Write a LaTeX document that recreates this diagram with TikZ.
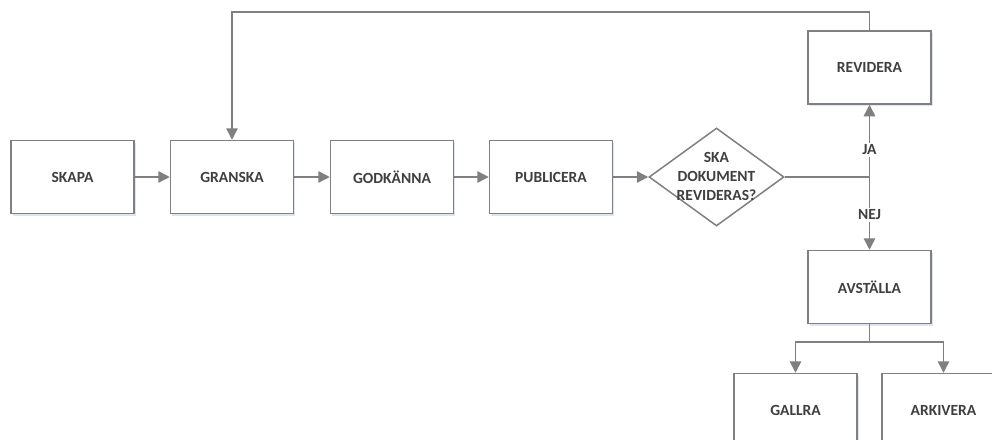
\documentclass[tikz,border=0pt]{standalone}
\usepackage{fontspec}
\setmainfont{Carlito}[BoldFont={Carlito Bold}]
\usetikzlibrary{shapes.geometric,arrows.meta,shadows}
\definecolor{linegray}{HTML}{808080}
\definecolor{textgray}{HTML}{3F3F3F}
\definecolor{shadowblue}{HTML}{DCE6F2}
\tikzset{
  box/.style={draw=linegray, line width=1.5pt, fill=white, minimum width=123pt, minimum height=73pt,
    inner sep=0pt, font=\bfseries\fontsize{15.5}{19}\selectfont, text=textgray,
    drop shadow={shadow xshift=1.5pt, shadow yshift=-2pt, fill=shadowblue, opacity=1}},
  conn/.style={draw=linegray, line width=1.5pt},
  arr/.style={conn, -{Triangle[length=11.5pt,width=11.5pt]}},
  lbl/.style={fill=white, inner sep=2pt, font=\bfseries\fontsize{15.5}{19}\selectfont, text=textgray},
}
\begin{document}
\begin{tikzpicture}[x=1pt,y=-1pt]
\useasboundingbox (0,0) rectangle (992,439);
\begin{scope}
\clip (0,0) rectangle (992,439);
\node[box] (skapa) at (72.5,177) {SKAPA};
\node[box] (granska) at (232,177) {GRANSKA};
\node[box] (godkanna) at (392,177) {GODKÄNNA};
\node[box] (publicera) at (551,177) {PUBLICERA};
\node[diamond, draw=linegray, line width=1.5pt, fill=white, inner sep=0pt,
  minimum width=135pt, minimum height=98pt, aspect=1.38] (beslut) at (716.5,177) {};
\node[align=center, font=\bfseries\fontsize{15.5}{19}\selectfont, text=textgray] (beslutText) at (716.5,176) {SKA\\DOKUMENT\\REVIDERAS?};
\node[box] (revidera) at (869.5,67.5) {REVIDERA};
\node[box] (avstalla) at (869.5,287) {AVSTÄLLA};
\node[box] (gallra) at (795.5,410) {GALLRA};
\node[box] (arkivera) at (943.5,410) {ARKIVERA};
\coordinate (junction) at (869.5,177);
\coordinate (topR) at (869.5,12);
\coordinate (topL) at (232,12);
\coordinate (split) at (869.5,342);
\coordinate (splitL) at (795.5,342);
\coordinate (splitR) at (943.5,342);

\draw[arr] (skapa) -- (granska);
\draw[arr] (granska) -- (godkanna);
\draw[arr] (godkanna) -- (publicera);
\draw[arr] (publicera) -- (beslut);
\draw[conn] (beslut.east) -- (junction);
\draw[arr] (junction) -- (revidera.south);
\draw[arr] (junction) -- (avstalla.north);
\node[lbl] (ja) at (869.5,150) {JA};
\node[lbl] (nej) at (869.5,215) {NEJ};
\draw[arr] (revidera.north) -- (topR) -- (topL) -- (granska.north);
\draw[conn] (avstalla.south) -- (split);
\draw[arr] (split) -- (splitL) -- (gallra.north);
\draw[arr] (split) -- (splitR) -- (arkivera.north);
\end{scope}
\end{tikzpicture}
\end{document}
